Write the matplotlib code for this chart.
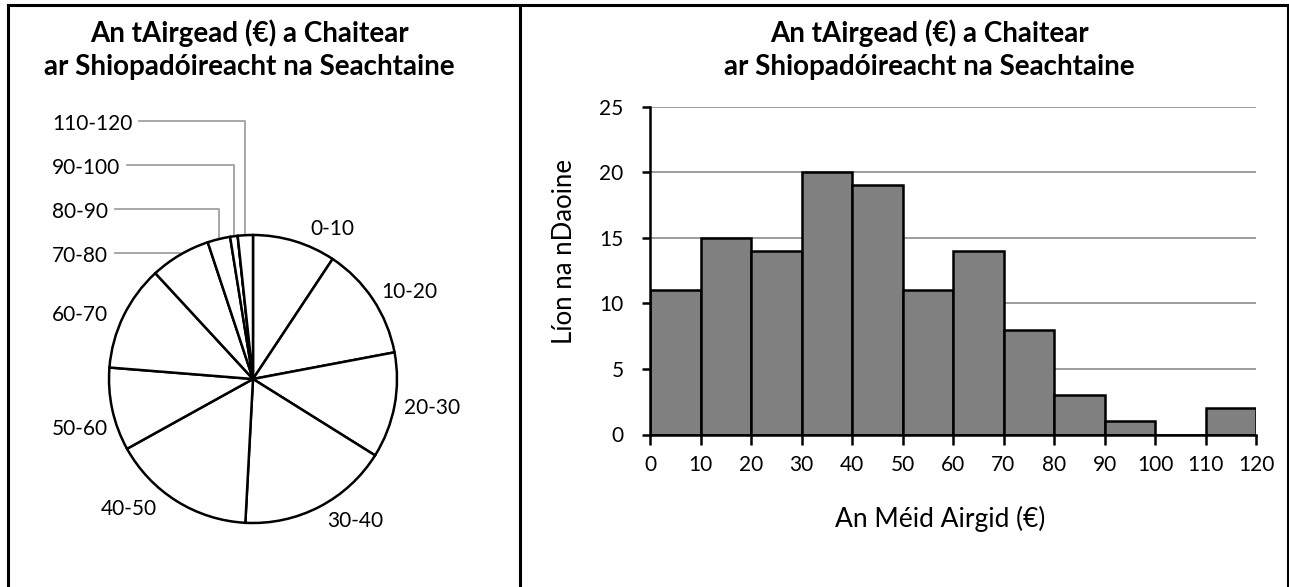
import numpy as np
import matplotlib
matplotlib.use('Agg')
import matplotlib.pyplot as plt
from matplotlib.lines import Line2D

plt.rcParams.update({
    'font.family': ['Lato', 'DejaVu Sans'],
    'font.size': 15,
})

# dados
bin_edges = [0, 10, 20, 30, 40, 50, 60, 70, 80, 90, 100, 110, 120]
bin_labels = ['0-10', '10-20', '20-30', '30-40', '40-50', '50-60', '60-70',
              '70-80', '80-90', '90-100', '100-110', '110-120']
counts = [11, 15, 14, 20, 19, 11, 14, 8, 3, 1, 0, 2]
y_ticks = [0, 5, 10, 15, 20, 25]

title_lines = ['An tAirgead (€) a Chaitear', 'ar Shiopadóireacht na Seachtaine']
x_label = 'An Méid Airgid (€)'
y_label = 'Líon na nDaoine'

# posição dos rótulos da pizza (pixels: x, baseline, alinhamento)
label_pos = {
    '0-10': (332, 235, 'center'),
    '10-20': (409, 298, 'center'),
    '20-30': (432, 414, 'center'),
    '30-40': (355, 527, 'center'),
    '40-50': (129, 515, 'center'),
    '50-60': (52, 435, 'left'),
    '60-70': (52, 321, 'left'),
    '70-80': (52, 262, 'left'),
    '80-90': (52, 218, 'left'),
    '90-100': (52, 174, 'left'),
    '110-120': (52, 130, 'left'),
}
leader_labels = ['70-80', '80-90', '90-100', '110-120']

W, H = 1289, 587
fig = plt.figure(figsize=(W / 100, H / 100), dpi=100)


def fx(px):
    return px / W


def fy(py):
    return 1 - py / H


# molduras dos dois painéis
for xs, ys in [((7.5, 7.5), (4.5, H + 5)), ((520, 520), (4.5, H + 5)),
               ((1287.5, 1287.5), (4.5, H + 5)), ((7.5, 1287.5), (4.5, 4.5))]:
    fig.add_artist(Line2D([fx(x) for x in xs], [fy(y) for y in ys],
                          color='black', linewidth=2.2))

# títulos
for cx in [249, 929]:
    for line, base in zip(title_lines, [42, 75.5]):
        fig.text(fx(cx), fy(base), line, ha='center', va='baseline',
                 fontsize=20, fontweight='bold')

# --- pizza ---
ax_pie = fig.add_axes([0, 0, 520 / W, 1])
cx, cy, r = 253, H - 379, 144
ax_pie.pie(counts, center=(cx, cy), radius=r, startangle=90, counterclock=False,
           wedgeprops=dict(facecolor='white', edgecolor='black', linewidth=1.8))
ax_pie.set_xlim(0, 520)
ax_pie.set_ylim(0, H)
ax_pie.axis('off')

total = sum(counts)
cum = np.concatenate([[0], np.cumsum(counts)])
texts = {}
for i, lab in enumerate(bin_labels):
    if lab not in label_pos:
        continue
    x, base, ha = label_pos[lab]
    texts[lab] = ax_pie.text(x, H - base, lab, ha=ha, va='baseline', fontsize=15)

fig.canvas.draw()
renderer = fig.canvas.get_renderer()
inv = ax_pie.transData.inverted()
for lab in leader_labels:
    i = bin_labels.index(lab)
    theta = np.deg2rad((cum[i] + counts[i] / 2) / total * 360)
    ax_x = cx + r * np.sin(theta)
    ax_y = cy + r * np.cos(theta)
    bb = texts[lab].get_window_extent(renderer)
    x0 = inv.transform((bb.x1, bb.y0))[0] + 7
    ly = H - (label_pos[lab][1] - 9.5)
    ax_pie.plot([x0, ax_x, ax_x], [ly, ly, ax_y], color='#a0a0a0',
                linewidth=1.3, zorder=0)

# --- histograma ---
ax = fig.add_axes([fx(650), fy(434.5), fx(1256) - fx(650), fy(106.7) - fy(434.5)])
ax.bar(bin_edges[:-1], counts, width=10, align='edge', color='#808080',
       edgecolor='black', linewidth=1.8, zorder=3)
ax.set_xlim(0, 120)
ax.set_ylim(0, 25)
ax.set_xticks(bin_edges)
ax.set_yticks(y_ticks)
ax.grid(axis='y', color='#8c8c8c', linewidth=1.2)
ax.set_axisbelow(True)
for s in ['top', 'right']:
    ax.spines[s].set_visible(False)
for s in ['left', 'bottom']:
    ax.spines[s].set_linewidth(1.8)
    ax.spines[s].set_zorder(4)
ax.tick_params(axis='x', direction='out', length=7, width=1.8, labelsize=15, pad=8)
ax.tick_params(axis='y', direction='out', length=6, width=1.8, labelsize=15, pad=13)

fig.text(fx(940), fy(527), x_label, ha='center', va='baseline', fontsize=19)
fig.text(fx(565), fy(251), y_label, ha='center', va='center', rotation=90, fontsize=18.5)

fig.savefig('out.png', dpi=100)
